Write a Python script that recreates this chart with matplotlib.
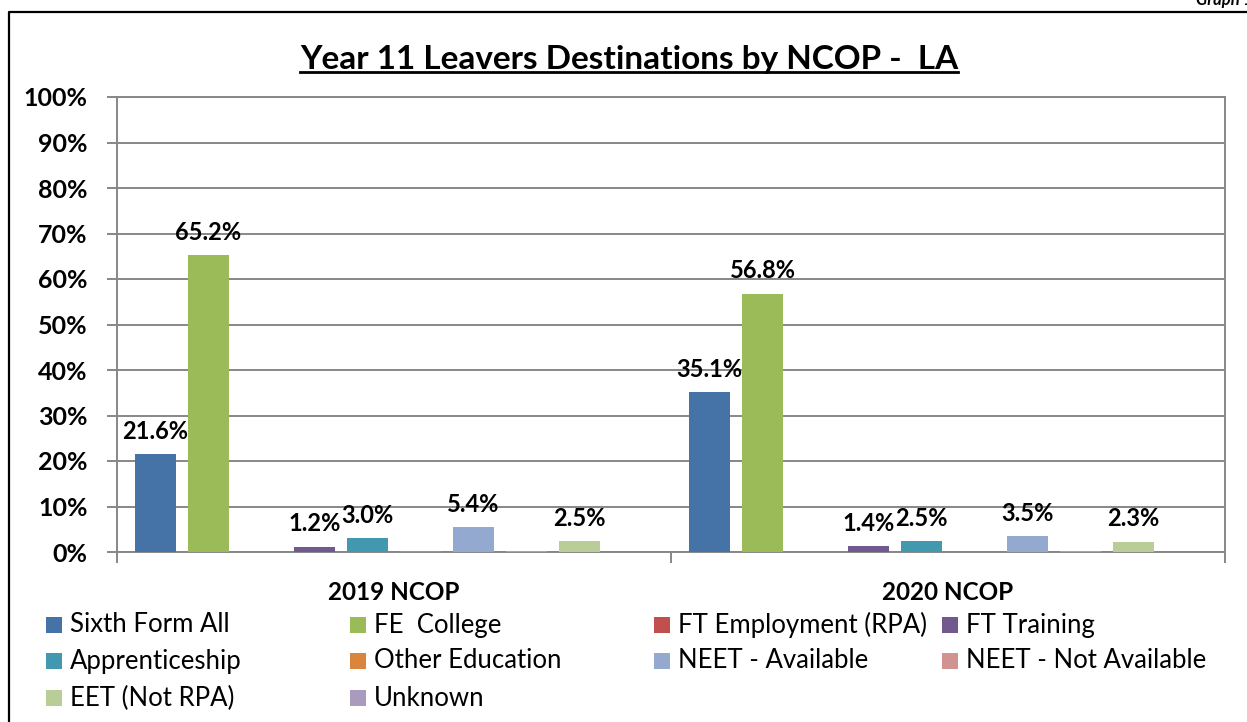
import matplotlib
matplotlib.use("Agg")
import matplotlib.pyplot as plt
from matplotlib.patches import Rectangle
from matplotlib.lines import Line2D
import numpy as np

plt.rcParams['font.family'] = ['Lato', 'DejaVu Sans']

categories = ["2019 NCOP", "2020 NCOP"]
series_names = ["Sixth Form All", "FE  College", "FT Employment (RPA)", "FT Training",
                "Apprenticeship", "Other Education", "NEET - Available",
                "NEET - Not Available", "EET (Not RPA)", "Unknown"]
values_2019 = [21.6, 65.2, 0.0, 1.2, 3.0, 0.3, 5.4, 0.2, 2.5, 0.0]
values_2020 = [35.1, 56.8, 0.0, 1.4, 2.5, 0.0, 3.5, 0.2, 2.3, 0.0]
colors = ["#4572A7", "#9BBB59", "#C0504D", "#71588F", "#4198AF",
          "#DB843D", "#93A9CF", "#D19392", "#B9CD96", "#A99BBD"]
y_ticks = list(range(0, 101, 10))
y_tick_labels = [f"{t}%" for t in y_ticks]
title = "Year 11 Leavers Destinations by NCOP -  LA"

W, H = 1247, 722
fig = plt.figure(figsize=(W / 100, H / 100), dpi=100)
fig.patch.set_facecolor("white")

def fx(px):
    return px / W

def fy(py):
    return 1 - py / H

ax = fig.add_axes([fx(117), fy(552), fx(1225) - fx(117), fy(97) - fy(552)])
grid_c = "#878787"

x = np.arange(len(categories))
step = 0.0957
width = 0.074
n = len(series_names)
for i, name in enumerate(series_names):
    vals = [values_2019[i], values_2020[i]]
    pos = x + (i - (n - 1) / 2) * step
    bars = ax.bar(pos, vals, width=width, color=colors[i], zorder=3, label=name)
    for b, v in zip(bars, vals):
        if v >= 1:
            ax.annotate(f"{v:.1f}%", (b.get_x() + b.get_width() / 2, v),
                        xytext=(0, 8), textcoords="offset points",
                        ha="center", va="bottom", fontsize=17, fontweight="bold",
                        color="black", zorder=5)

ax.set_xlim(-0.5, 1.5)
ax.set_ylim(0, 100)
ax.set_yticks(y_ticks)
ax.set_yticklabels(y_tick_labels, fontsize=18, fontweight="bold")
ax.tick_params(axis="y", length=7, width=1.4, color=grid_c, pad=14)
ax.yaxis.grid(True, color=grid_c, linewidth=1.4, zorder=0)
ax.set_axisbelow(True)

ax.set_xticks(x)
ax.set_xticklabels(categories, fontsize=17.5, fontweight="bold")
ax.tick_params(axis="x", which="major", length=0, pad=21)
ax.set_xticks([-0.5, 0.5, 1.5], minor=True)
ax.tick_params(axis="x", which="minor", length=8, width=1.4, color=grid_c)

for s in ax.spines.values():
    s.set_color(grid_c)
    s.set_linewidth(1.4)

# Legend laid out in Excel's fixed-width grid
legend_cols_px = [46, 350, 654, 942]
legend_rows_py = [625, 661, 698]
for i, name in enumerate(series_names):
    r, c = divmod(i, 4)
    lx, ly = legend_cols_px[c], legend_rows_py[r]
    fig.patches.append(Rectangle((fx(lx), fy(ly + 8)), fx(16), 16 / H,
                                 transform=fig.transFigure, facecolor=colors[i],
                                 edgecolor="none"))
    fig.text(fx(lx + 24), fy(ly), name, fontsize=18.5, va="center", ha="left",
             color="black")

# Title with underline
t = fig.text(fx(629), fy(60), title, fontsize=22, fontweight="bold",
             ha="center", va="center")
fig.canvas.draw()
bb = t.get_window_extent()
target_w = 658
t.set_fontsize(22 * target_w / bb.width)
fig.canvas.draw()
bb = t.get_window_extent()
fig.add_artist(Line2D([bb.x0 / W, bb.x1 / W], [fy(72), fy(72)],
                      transform=fig.transFigure, color="black", linewidth=2))

# Outer frame
fig.add_artist(Line2D([fx(9), fx(9), 1.0], [0.0, fy(11.5), fy(11.5)],
                      transform=fig.transFigure, color="black", linewidth=1.6))

fig.text(fx(1196), fy(5), "Graph 1", fontsize=12, fontweight="bold",
         style="italic", ha="left", va="baseline")

fig.savefig("out.png", dpi=100)
